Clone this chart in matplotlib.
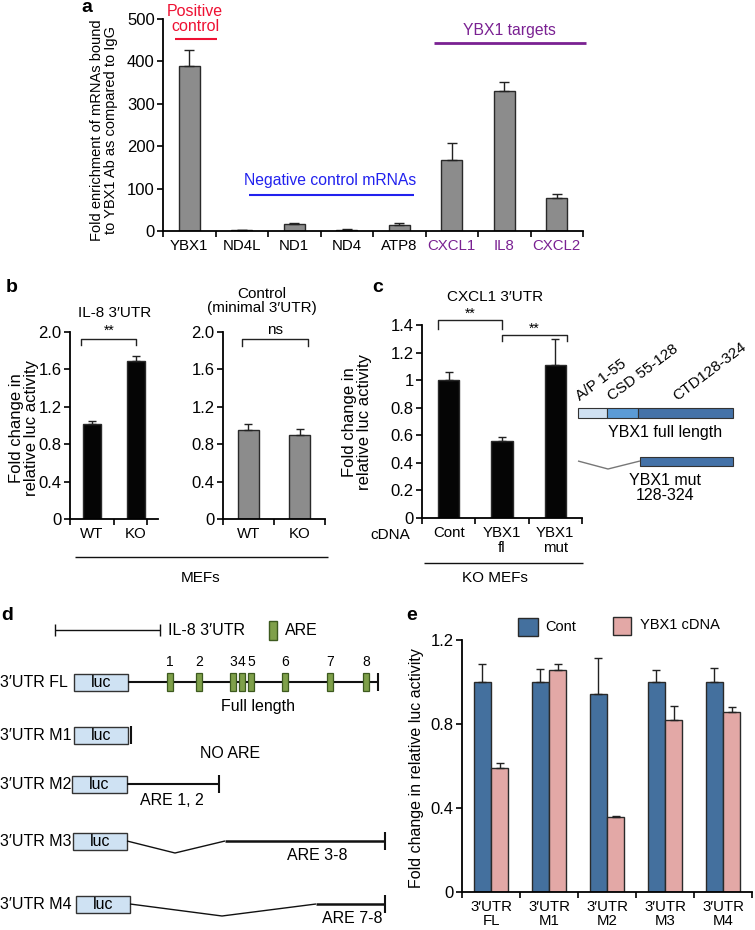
import matplotlib
matplotlib.use('Agg')
import matplotlib.pyplot as plt
from matplotlib.patches import Rectangle

plt.rcParams['font.family'] = ['Liberation Sans', 'DejaVu Sans']
plt.rcParams['font.size'] = 10

# ---------------- data ----------------
a_cats = ['YBX1', 'ND4L', 'ND1', 'ND4', 'ATP8', 'CXCL1', 'IL8', 'CXCL2']
a_vals = [388, 2, 16, 3, 15, 168, 331, 78]
a_errs = [40, 0, 4, 2, 5, 40, 20, 9]

b1_cats = ['WT', 'KO']
b1_vals = [1.02, 1.69]
b1_errs = [0.03, 0.05]
b2_cats = ['WT', 'KO']
b2_vals = [0.95, 0.90]
b2_errs = [0.07, 0.06]

c_cats = ['Cont', 'YBX1\nfl', 'YBX1\nmut']
c_vals = [1.0, 0.555, 1.11]
c_errs = [0.06, 0.03, 0.185]

e_cats = ["3\u2032UTR\nFL", "3\u2032UTR\nM1", "3\u2032UTR\nM2", "3\u2032UTR\nM3", "3\u2032UTR\nM4"]
e_cont = [1.0, 1.0, 0.945, 1.0, 1.0]
e_cont_err = [0.085, 0.06, 0.17, 0.055, 0.065]
e_ybx = [0.59, 1.055, 0.355, 0.82, 0.855]
e_ybx_err = [0.025, 0.03, 0.005, 0.065, 0.025]

are_labels = ['1', '2', '3', '4', '5', '6', '7', '8']

# ---------------- figure ----------------
W, H = 755, 930
fig = plt.figure(figsize=(W / 100, H / 100), dpi=100)


def add_ax(l, t, r, b):
    return fig.add_axes([l / W, 1 - b / H, (r - l) / W, (b - t) / H])


def style(ax, n):
    for s in ['top', 'right']:
        ax.spines[s].set_visible(False)
    for s in ['left', 'bottom']:
        ax.spines[s].set_linewidth(1.3)
    ax.tick_params(axis='y', direction='out', length=4, width=1.2, labelsize=12, pad=2)
    ax.tick_params(axis='x', which='major', length=0, labelsize=10.8, pad=6)
    ax.set_xticks([i + 0.5 for i in range(-1, n)], minor=True)
    ax.tick_params(axis='x', which='minor', direction='out', length=4, width=1.2)
    ax.patch.set_alpha(0)


def bracket(ax, x0, x1, ytop, ybot, label, ylab, fs=10):
    ax.plot([x0, x0, x1, x1], [ybot, ytop, ytop, ybot], color='#222222', lw=1, clip_on=False)
    ax.text((x0 + x1) / 2, ylab, label, ha='center', va='bottom', fontsize=fs, clip_on=False)


GRAY = '#8c8c8c'
EDGE = '#2a2a2a'

# ---------------- panel a ----------------
axa = add_ax(163, 19, 583, 231)
xa = list(range(len(a_cats)))
axa.bar(xa, a_vals, width=0.4, color=GRAY, edgecolor=EDGE, lw=1)
axa.errorbar(xa, a_vals, yerr=[[0] * len(a_vals), a_errs], fmt='none', ecolor='#222222', capsize=3.5, elinewidth=1)
axa.set_xlim(-0.5, 7.5)
axa.set_ylim(0, 500)
axa.set_yticks([0, 100, 200, 300, 400, 500])
style(axa, len(a_cats))
axa.set_xticks(xa)
axa.set_xticklabels(a_cats)
purple = '#7a2192'
for i, t in enumerate(axa.get_xticklabels()):
    if i >= 5:
        t.set_color(purple)

# ---------------- panel b ----------------
BLACK = '#050505'
axb1 = add_ax(70, 332, 158, 519)
xb = [0, 1]
axb1.bar(xb, b1_vals, width=0.42, color=BLACK, edgecolor=EDGE, lw=1)
axb1.errorbar(xb, b1_vals, yerr=[[0, 0], b1_errs], fmt='none', ecolor='#222222', capsize=3, elinewidth=1)
axb1.set_xlim(-0.5, 1.25)
axb1.set_ylim(0, 2.0)
axb1.set_yticks([0, 0.4, 0.8, 1.2, 1.6, 2.0])
axb1.set_yticklabels(['0', '0.4', '0.8', '1.2', '1.6', '2.0'])
style(axb1, 2)
axb1.set_xticks([-0.5, 0.5, 1.25], minor=True)
axb1.set_xticks(xb)
axb1.set_xticklabels(b1_cats)
bracket(axb1, -0.24, 1.0, 1.93, 1.86, '**', 1.94)

axb2 = add_ax(223, 332, 325, 519)
axb2.bar(xb, b2_vals, width=0.42, color=GRAY, edgecolor=EDGE, lw=1)
axb2.errorbar(xb, b2_vals, yerr=[[0, 0], b2_errs], fmt='none', ecolor='#222222', capsize=3, elinewidth=1)
axb2.set_xlim(-0.5, 1.5)
axb2.set_ylim(0, 2.0)
axb2.set_yticks([0, 0.4, 0.8, 1.2, 1.6, 2.0])
axb2.set_yticklabels(['0', '0.4', '0.8', '1.2', '1.6', '2.0'])
style(axb2, 2)
axb2.set_xticks(xb)
axb2.set_xticklabels(b2_cats)
bracket(axb2, -0.12, 1.16, 1.925, 1.85, 'ns', 1.95, fs=11)

# ---------------- panel c ----------------
axc = add_ax(422, 325, 582, 518)
xc = [0, 1, 2]
axc.bar(xc, c_vals, width=0.4, color=BLACK, edgecolor=EDGE, lw=1)
axc.errorbar(xc, c_vals, yerr=[[0, 0, 0], c_errs], fmt='none', ecolor='#222222', capsize=3, elinewidth=1)
axc.set_xlim(-0.5, 2.5)
axc.set_ylim(0, 1.4)
axc.set_yticks([0, 0.2, 0.4, 0.6, 0.8, 1.0, 1.2, 1.4])
axc.set_yticklabels(['0', '0.2', '0.4', '0.6', '0.8', '1', '1.2', '1.4'])
style(axc, 3)
axc.set_xticks(xc)
axc.set_xticklabels(c_cats, va='top', linespacing=1.1)
bracket(axc, -0.2, 1.0, 1.435, 1.37, '**', 1.43)
bracket(axc, 1.0, 2.22, 1.33, 1.285, '**', 1.325)

# ---------------- panel e ----------------
axe = add_ax(462, 640, 752, 892)
xe = list(range(len(e_cats)))
bw = 0.3
xl = [i - bw / 2 for i in xe]
xr = [i + bw / 2 for i in xe]
BLUE = '#44709e'
PINK = '#e3a8a6'
axe.bar(xl, e_cont, width=bw, color=BLUE, edgecolor=EDGE, lw=1)
axe.bar(xr, e_ybx, width=bw, color=PINK, edgecolor=EDGE, lw=1)
axe.errorbar(xl, e_cont, yerr=[[0] * 5, e_cont_err], fmt='none', ecolor='#222222', capsize=3, elinewidth=1)
axe.errorbar(xr, e_ybx, yerr=[[0] * 5, e_ybx_err], fmt='none', ecolor='#222222', capsize=3, elinewidth=1)
axe.set_xlim(-0.5, 4.5)
axe.set_ylim(0, 1.2)
axe.set_yticks([0, 0.4, 0.8, 1.2])
axe.set_yticklabels(['0', '0.4', '0.8', '1.2'])
style(axe, 5)
axe.set_xticks(xe)
axe.set_xticklabels(e_cats, linespacing=1.0)

# ---------------- overlay (annotations & schematics) ----------------
ov = fig.add_axes([0, 0, 1, 1])
ov.set_xlim(0, W)
ov.set_ylim(H, 0)
ov.axis('off')

def T(x, y, s, **kw):
    kw.setdefault('ha', 'center')
    kw.setdefault('va', 'center')
    ov.text(x, y, s, **kw)

def L(xs, ys, **kw):
    kw.setdefault('color', '#111111')
    kw.setdefault('lw', 1)
    ov.plot(xs, ys, solid_capstyle='butt', **kw)

# panel letters
for x, y, s in [(87, 8, 'a'), (12, 287, 'b'), (378, 287, 'c'), (7, 615, 'd'), (412, 615, 'e')]:
    T(x, y, s, fontsize=14, fontweight='bold')

# panel a annotations
RED = '#ee1133'
NBLUE = '#2222ee'
T(195, 19, 'Positive\ncontrol', color=RED, fontsize=11.5, linespacing=1.0)
L([175, 217], [39, 39], color=RED, lw=1.5)
T(330, 181, 'Negative control mRNAs', color=NBLUE, fontsize=11.3)
L([249, 414], [195, 195], color=NBLUE, lw=1.5)
T(509, 30, 'YBX1 targets', color=purple, fontsize=11.3)
L([434, 586], [43, 43], color=purple, lw=2)
T(104, 130, 'Fold enrichment of mRNAs bound\nto YBX1 Ab as compared to IgG', rotation=90, fontsize=10.5, linespacing=1.05)

# panel b annotations
T(115, 313, "IL-8 3\u2032UTR", fontsize=11)
T(262, 301, "Control\n(minimal 3\u2032UTR)", fontsize=11, linespacing=1.05)
T(24, 428, "Fold change in\nrelative luc activity", rotation=90, fontsize=12, linespacing=1.0)
L([75, 328], [557, 557], lw=1)
T(201, 578, 'MEFs', fontsize=11)

# panel c annotations
T(495, 297, "CXCL1 3\u2032UTR", fontsize=11)
T(357, 422, "Fold change in\nrelative luc activity", rotation=90, fontsize=12, linespacing=1.0)
T(390, 535, 'cDNA', fontsize=11)
L([424, 583], [563, 563], lw=1)
T(495, 578, 'KO MEFs', fontsize=11)

# panel c schematic
ov.add_patch(Rectangle((578, 408), 29, 10, facecolor='#cfe0f1', edgecolor='#333333', lw=0.8))
ov.add_patch(Rectangle((607, 408), 31, 10, facecolor='#5b9bd6', edgecolor='#333333', lw=0.8))
ov.add_patch(Rectangle((638, 408), 95, 10, facecolor='#4472a8', edgecolor='#333333', lw=0.8))
ov.text(582, 403, 'A/P 1-55', rotation=37, rotation_mode='anchor', ha='left', va='bottom', fontsize=11)
ov.text(614, 403, 'CSD 55-128', rotation=37, rotation_mode='anchor', ha='left', va='bottom', fontsize=11)
ov.text(679, 403, 'CTD128-324', rotation=37, rotation_mode='anchor', ha='left', va='bottom', fontsize=11)
T(665, 432, 'YBX1 full length', fontsize=11.5)
ov.add_patch(Rectangle((640, 457), 93, 9, facecolor='#4472a8', edgecolor='#333333', lw=0.8))
L([578, 608, 640], [461, 469, 461], color='#777777', lw=1)
T(665, 488, 'YBX1 mut\n128-324', fontsize=11.5, linespacing=1.0)

# panel d schematic
GREEN = '#7fa04a'
GEDGE = '#3d5a1f'
LUC = '#cfe2f3'
L([55, 160], [630, 630], lw=1)
L([55, 55], [624, 636], lw=1)
L([160, 160], [624, 636], lw=1)
T(168, 630, "IL-8 3\u2032UTR", ha='left', fontsize=11.5)
ov.add_patch(Rectangle((269, 621), 8, 19, facecolor=GREEN, edgecolor=GEDGE, lw=1))
T(285, 630, 'ARE', ha='left', fontsize=11.5)

def luc(x0, x1, yc):
    ov.add_patch(Rectangle((x0, yc - 8.5), x1 - x0, 17, facecolor=LUC, edgecolor='#333333', lw=1))
    T((x0 + x1) / 2, yc, 'luc', fontsize=11.5)

def endtick(x, yc):
    L([x, x], [yc - 9, yc + 9], lw=1.5)

# FL
y = 682
T(0, y, "3\u2032UTR FL", ha='left', fontsize=11.5)
L([128, 378], [y, y], lw=1.5)
luc(74, 128, y)
endtick(378, y)
are_x = [170, 199, 233, 242, 251, 285, 330, 366]
for xx, lab in zip(are_x, are_labels):
    ov.add_patch(Rectangle((xx - 3, y - 9), 6, 18, facecolor=GREEN, edgecolor=GEDGE, lw=0.9, zorder=3))
    T(xx, y - 20, lab, fontsize=10)
T(258, 706, 'Full length', fontsize=11.5)

# M1
y = 735
T(0, y, "3\u2032UTR M1", ha='left', fontsize=11.5)
luc(74, 128, y)
endtick(131, y)
T(230, 753, 'NO ARE', fontsize=11.5)

# M2
y = 784
T(0, y, "3\u2032UTR M2", ha='left', fontsize=11.5)
L([127, 219], [y, y], lw=1.5)
luc(72, 127, y)
endtick(219, y)
T(172, 800, 'ARE 1, 2', fontsize=11.5)

# M3
y = 841
T(0, y, "3\u2032UTR M3", ha='left', fontsize=11.5)
L([127, 175, 225], [y, y + 12, y], lw=1)
L([225, 385], [y, y], lw=1.8)
luc(73, 127, y)
endtick(385, y)
T(317, 855, 'ARE 3-8', fontsize=11.5)

# M4
y = 904
T(0, y, "3\u2032UTR M4", ha='left', fontsize=11.5)
L([130, 222, 316], [y, y + 12, y], lw=1)
L([316, 385], [y, y], lw=1.8)
luc(76, 130, y)
endtick(385, y)
T(352, 918, 'ARE 7-8', fontsize=11.5)

# panel e annotations
T(416, 768, 'Fold change in relative luc activity', rotation=90, fontsize=11.5)
ov.add_patch(Rectangle((518, 618), 20, 18, facecolor=BLUE, edgecolor=EDGE, lw=1))
T(545, 627, 'Cont', ha='left', fontsize=10.5)
ov.add_patch(Rectangle((613, 617), 18, 18, facecolor=PINK, edgecolor=EDGE, lw=1))
T(640, 625, 'YBX1 cDNA', ha='left', fontsize=10.5)

fig.savefig('out.png', dpi=100)
